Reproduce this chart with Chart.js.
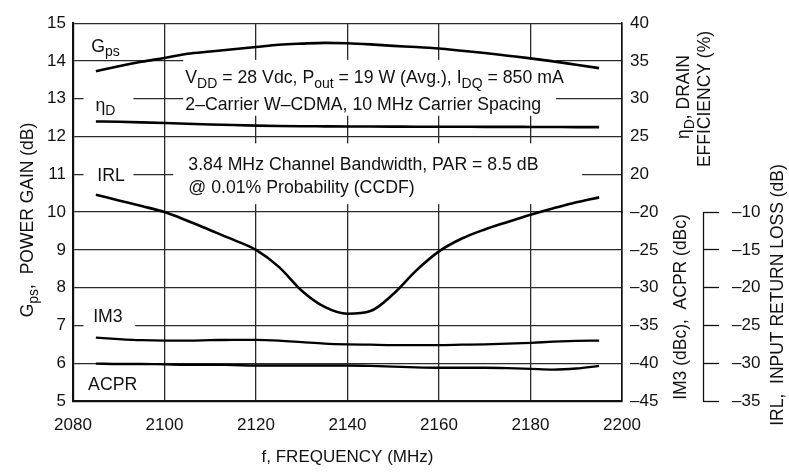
<!DOCTYPE html>
<html lang="en">
<head>
<meta charset="UTF-8">
<script src="https://cdn.jsdelivr.net/npm/chart.js@4.4.1/dist/chart.umd.min.js"></script>
<title>Gps, efficiency, IM3, ACPR, IRL vs frequency</title>
<style>
  body { margin: 0; background: #fff; }
  canvas { display: block; }
</style>
</head>
<body>
<canvas id="myChart" width="789" height="472"></canvas>
<script>
// frequency points (MHz) and the five curves
var freq = [2085, 2090, 2095, 2100, 2105, 2110, 2115, 2120, 2125, 2130, 2135, 2140,
            2145, 2150, 2155, 2160, 2165, 2170, 2175, 2180, 2185, 2190, 2195];
var gps  = [13.73, 13.86, 13.98, 14.08, 14.19, 14.25, 14.31, 14.37, 14.43, 14.46, 14.48, 14.47,
            14.44, 14.40, 14.37, 14.33, 14.27, 14.21, 14.14, 14.07, 13.99, 13.90, 13.81];
var eta  = [27.0, 26.95, 26.88, 26.8, 26.7, 26.6, 26.52, 26.45, 26.4, 26.37, 26.35, 26.33,
            26.32, 26.31, 26.3, 26.3, 26.29, 26.28, 26.28, 26.27, 26.26, 26.25, 26.25];
var irl  = [-7.7, -8.45, -9.2, -10.0, -11.15, -12.4, -13.65, -15.0, -17.25, -20.4, -22.55, -23.45,
            -23.1, -20.85, -17.75, -15.2, -13.5, -12.3, -11.3, -10.35, -9.5, -8.7, -8.05];
var im3  = [-36.6, -36.8, -36.95, -37.0, -37.0, -36.95, -36.9, -36.9, -37.0, -37.2, -37.4, -37.5,
            -37.55, -37.6, -37.6, -37.6, -37.55, -37.5, -37.4, -37.3, -37.15, -37.05, -37.0];
var acpr = [-40.05, -40.1, -40.1, -40.15, -40.2, -40.2, -40.25, -40.3, -40.3, -40.3, -40.3, -40.3,
            -40.35, -40.45, -40.55, -40.6, -40.6, -40.6, -40.65, -40.75, -40.85, -40.7, -40.35];

// axis tick labels
var freqTicks = [2080, 2100, 2120, 2140, 2160, 2180, 2200];
var gainTicks = [5, 6, 7, 8, 9, 10, 11, 12, 13, 14, 15];
var etaTicks  = [20, 25, 30, 35, 40];
var dbcTicks  = [-45, -40, -35, -30, -25, -20];
var irlTicks  = [-35, -30, -25, -20, -15, -10];

var FONT = '"Liberation Sans", Arial, sans-serif';
var INK = '#111';
var GRID = '#2a2a2a';

function dash(v) { return v < 0 ? '\u2013' + Math.abs(v) : String(v); }
function pick(list) {
    return function (v) { return list.indexOf(v) >= 0 ? dash(v) : ''; };
}
function fixed(list) {
    return function (s) { s.ticks = list.map(function (v) { return {value: v}; }); };
}

// draws a run of [text, subscript?] pieces
function richText(ctx, pieces, x, y, size) {
    var cx = x;
    pieces.forEach(function (p) {
        var sub = p[1];
        ctx.font = (sub ? Math.round(size * 0.78) : size) + 'px ' + FONT;
        ctx.fillText(p[0], cx, sub ? y + size * 0.3 : y);
        cx += ctx.measureText(p[0]).width;
    });
    return cx - x;
}
function richWidth(ctx, pieces, size) {
    var w = 0;
    pieces.forEach(function (p) {
        ctx.font = (p[1] ? Math.round(size * 0.78) : size) + 'px ' + FONT;
        w += ctx.measureText(p[0]).width;
    });
    return w;
}
function rotatedText(ctx, pieces, x, yCenter, size) {
    ctx.save();
    ctx.translate(x, yCenter);
    ctx.rotate(-Math.PI / 2);
    ctx.textBaseline = 'alphabetic';
    var w = richWidth(ctx, pieces, size);
    richText(ctx, pieces, -w / 2, 0, size);
    ctx.restore();
}

var notes = {
    id: 'notes',
    beforeDatasetsDraw: function (chart) {
        var ctx = chart.ctx, X = chart.scales.x, Y = chart.scales.y;
        function px(v) { return X.getPixelForValue(v); }
        function py(v) { return Y.getPixelForValue(v); }
        ctx.save();
        ctx.fillStyle = '#fff';
        // white boxes that break the grid behind the text
        [[2104.1, 2185.6, 14.03, 12.55], [2101.9, 2191.3, 11.82, 10.21],
         [2082.3, 2093.2, 13.17, 12.5], [2082.3, 2093.2, 11.25, 10.63], [2082.3, 2093.6, 7.56, 6.91]]
        .forEach(function (b) {
            ctx.fillRect(px(b[0]), py(b[2]), px(b[1]) - px(b[0]), py(b[3]) - py(b[2]));
        });
        ctx.fillStyle = INK;
        ctx.textBaseline = 'middle';
        var s = 17.7;
        richText(ctx, [['V'], ['DD', 1], [' = 28 Vdc, P'], ['out', 1], [' = 19 W (Avg.), I'], ['DQ', 1], [' = 850 mA']],
                 px(2104.55), py(13.54), s);
        richText(ctx, [['2\u2013Carrier W\u2013CDMA, 10 MHz Carrier Spacing']], px(2104.55), py(12.84), s);
        richText(ctx, [['3.84 MHz Channel Bandwidth, PAR = 8.5 dB']], px(2105.2), py(11.25), s);
        richText(ctx, [['@ 0.01% Probability (CCDF)']], px(2105.2), py(10.63), s);
        // curve labels
        richText(ctx, [['G'], ['ps', 1]], px(2084.0), py(14.37), s);
        richText(ctx, [['\u03b7'], ['D', 1]], px(2084.9), py(12.81), s);
        richText(ctx, [['IRL']], px(2085.3), py(10.94), s);
        richText(ctx, [['IM3']], px(2084.4), py(7.23), s);
        richText(ctx, [['ACPR']], px(2083.3), py(5.41), s);
        ctx.restore();
    },
    afterDraw: function (chart) {
        var ctx = chart.ctx, R = chart.scales.yIrl;
        ctx.save();
        // the short IRL axis line
        ctx.strokeStyle = INK;
        ctx.lineWidth = 1.3;
        ctx.beginPath();
        ctx.moveTo(R.left + 0.5, R.getPixelForValue(-10));
        ctx.lineTo(R.left + 0.5, R.getPixelForValue(-35));
        ctx.stroke();
        ctx.fillStyle = INK;
        var t = 17.5;
        rotatedText(ctx, [['G'], ['ps', 1], [',  POWER GAIN (dB)']], 33, 220, t);
        rotatedText(ctx, [['\u03b7'], ['D', 1], [', DRAIN']], 689, 97, t);
        rotatedText(ctx, [['EFFICIENCY (%)']], 710, 99, t);
        rotatedText(ctx, [['IM3 (dBc),  ACPR (dBc)']], 686, 307, t);
        rotatedText(ctx, [['IRL,  INPUT RETURN LOSS (dB)']], 783, 295, t);
        ctx.restore();
    }
};

function curve(label, data, axis, width) {
    return {
        label: label,
        data: freq.map(function (f, i) { return {x: f, y: data[i]}; }),
        yAxisID: axis,
        borderColor: '#000',
        borderWidth: width,
        pointRadius: 0,
        cubicInterpolationMode: 'monotone',
        fill: false
    };
}

var tickFont = {family: FONT, size: 17};

var ctx = document.getElementById('myChart').getContext('2d');
var chart = new Chart(ctx, {
    type: 'line',
    data: {
        datasets: [
            curve('Gps', gps, 'y', 2.6),
            curve('ηD', eta, 'yEta', 2.6),
            curve('IRL', irl, 'yIrl', 2.6),
            curve('IM3', im3, 'yDbc', 2.3),
            curve('ACPR', acpr, 'yDbc', 2.3)
        ]
    },
    options: {
        responsive: false,
        animation: false,
        layout: {padding: {top: 16, left: 0, right: 0, bottom: 0}},
        plugins: {legend: {display: false}, tooltip: {enabled: false}},
        scales: {
            x: {
                type: 'linear', min: 2080, max: 2200,
                afterBuildTicks: fixed(freqTicks),
                afterFit: function (s) { s.height = 71; },
                ticks: {font: tickFont, color: INK, padding: 14, maxRotation: 0, autoSkip: false,
                        callback: function (v) { return String(v); }},
                grid: {color: GRID, lineWidth: 1.3, drawTicks: false},
                border: {color: INK, width: 2.2},
                title: {display: true, text: 'f, FREQUENCY (MHz)', color: INK,
                        font: {family: FONT, size: 17}, padding: {top: 0, bottom: 4}}
            },
            y: {
                position: 'left', min: 5, max: 15,
                afterBuildTicks: fixed(gainTicks),
                afterFit: function (s) { s.width = 73; },
                ticks: {font: tickFont, color: INK, padding: 7, autoSkip: false},
                grid: {color: GRID, lineWidth: 1.3, drawTicks: false},
                border: {color: INK, width: 2.2}
            },
            // efficiency (upper half) and dBc (lower half) share the right axis
            yEta: {
                position: 'right', stack: 'right', stackWeight: 1, min: 15, max: 40,
                afterBuildTicks: fixed(etaTicks),
                afterFit: function (s) { s.width = 81; },
                ticks: {font: tickFont, color: INK, padding: 8, autoSkip: false, callback: pick(etaTicks)},
                grid: {drawOnChartArea: false, drawTicks: false},
                border: {color: INK, width: 1.6}
            },
            yDbc: {
                position: 'right', stack: 'right', stackWeight: 1, min: -45, max: -20,
                afterBuildTicks: fixed(dbcTicks),
                afterFit: function (s) { s.width = 81; },
                ticks: {font: tickFont, color: INK, padding: 8, autoSkip: false, callback: pick(dbcTicks)},
                grid: {drawOnChartArea: false, drawTicks: false},
                border: {color: INK, width: 1.6}
            },
            yIrl: {
                position: 'right', min: -35, max: 15,
                afterBuildTicks: fixed(irlTicks),
                afterFit: function (s) { s.width = 86; },
                ticks: {font: tickFont, color: INK, padding: 13, autoSkip: false, callback: pick(irlTicks)},
                grid: {drawOnChartArea: false, drawTicks: true, tickLength: 16, tickColor: INK, tickWidth: 1.3},
                border: {display: false}
            }
        }
    },
    plugins: [notes]
});
</script>
</body>
</html>
